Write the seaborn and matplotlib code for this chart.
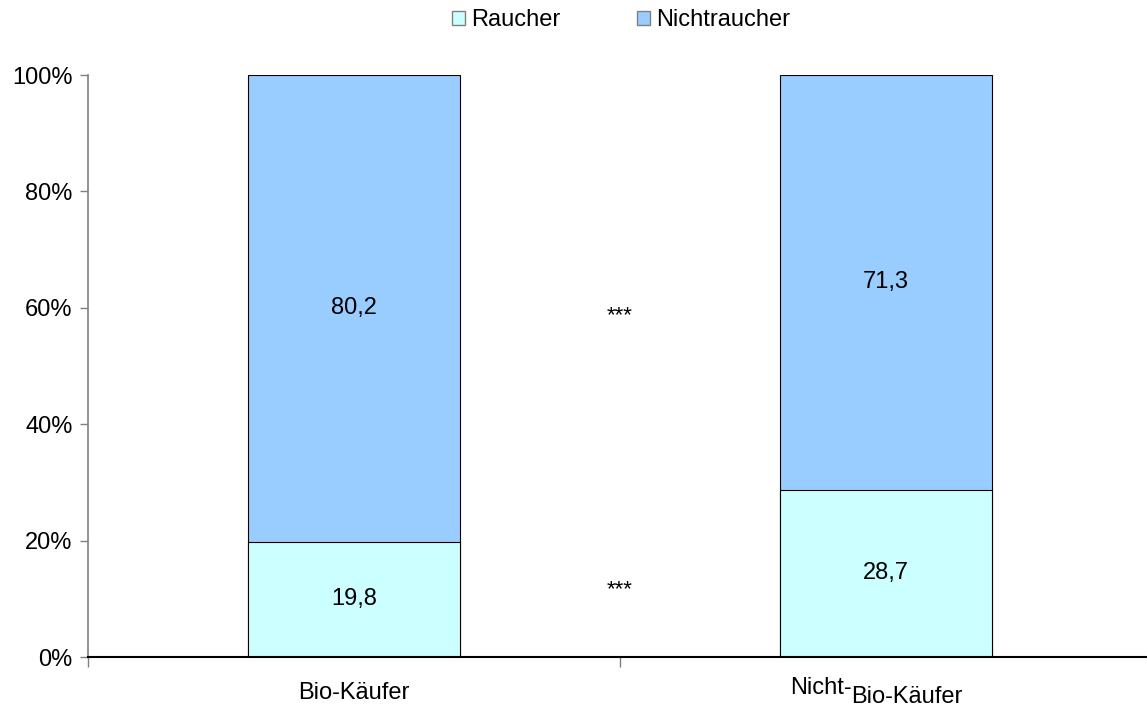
import matplotlib
matplotlib.use("Agg")
import matplotlib.pyplot as plt
import matplotlib.transforms as mtransforms
from matplotlib.patches import Patch
import seaborn as sns
import pandas as pd

# Data: share of smokers / non-smokers by buyer group (percent)
groups = ["Bio-Käufer", "Nicht-Bio-Käufer"]
raucher = [19.8, 28.7]
nichtraucher = [80.2, 71.3]
series_names = ["Raucher", "Nichtraucher"]
y_ticks = [0, 20, 40, 60, 80, 100]
signif_marks = ["***", "***"]
signif_levels = [58.6, 11.5]

col_raucher = "#CCFFFF"
col_nicht = "#99CCFF"

sns.set_style("white")
plt.rcParams["font.family"] = ["Liberation Sans", "DejaVu Sans"]
plt.rcParams["text.color"] = "black"
plt.rcParams["ytick.labelcolor"] = "black"
plt.rcParams["xtick.labelcolor"] = "black"

FS = 17

fig = plt.figure(figsize=(11.47, 7.10), dpi=100)
# plot area runs slightly past the right edge of the canvas
ax = fig.add_axes([88 / 1147, 1 - 657 / 710, (1152 - 88) / 1147, (657 - 75) / 710])

df = pd.DataFrame({
    "group": groups,
    "raucher": raucher,
    "total": [r + n for r, n in zip(raucher, nichtraucher)],
})

# stacked bars: full height first, smokers drawn over the lower part
sns.barplot(data=df, x="group", y="total", color=col_nicht, saturation=1,
            width=0.4, edgecolor="black", linewidth=0.8, ax=ax)
sns.barplot(data=df, x="group", y="raucher", color=col_raucher, saturation=1,
            width=0.4, edgecolor="black", linewidth=0.8, ax=ax)

# value labels centred in each segment
for i, (r, n) in enumerate(zip(raucher, nichtraucher)):
    ax.text(i, r / 2, f"{r:.1f}".replace(".", ","), ha="center", va="center", fontsize=FS)
    ax.text(i, r + n / 2, f"{n:.1f}".replace(".", ","), ha="center", va="center", fontsize=FS)

# significance stars between the bars
for m, lvl in zip(signif_marks, signif_levels):
    ax.text(0.5, lvl, m, ha="center", va="center", fontsize=16)

ax.set_xlim(-0.5, 1.5)
ax.set_ylim(0, 100)
ax.set_yticks(y_ticks)
ax.set_yticklabels([f"{t}%" for t in y_ticks], fontsize=FS)
ax.set_xlabel("")
ax.set_ylabel("")

# category boundaries as tick marks, labels drawn separately
ax.set_xticks([-0.5, 0.5, 1.5])
ax.set_xticklabels([])
ax.tick_params(axis="x", direction="out", length=7, width=1, color="#808080", bottom=True)
ax.tick_params(axis="y", direction="out", length=6, width=1, color="#808080", left=True, pad=5)

for side in ["top", "right"]:
    ax.spines[side].set_visible(False)
ax.spines["left"].set_color("#808080")
ax.spines["left"].set_linewidth(1.2)
ax.spines["bottom"].set_color("black")
ax.spines["bottom"].set_linewidth(1.5)

trans = mtransforms.blended_transform_factory(ax.transData, fig.transFigure)
ax.text(0, 1 - 693 / 710, groups[0], transform=trans, ha="center", va="center", fontsize=FS)
first, second = groups[1].split("-", 1)
ax.text(0.935, 1 - 688 / 710, first + "-", transform=trans, ha="right", va="center", fontsize=FS)
ax.text(0.935, 1 - 697 / 710, second, transform=trans, ha="left", va="center", fontsize=FS)

handles = [Patch(facecolor=col_raucher, edgecolor="#808080", linewidth=1),
           Patch(facecolor=col_nicht, edgecolor="#808080", linewidth=1)]
fig.legend(handles, series_names, loc="center", bbox_to_anchor=(621 / 1147, 1 - 20 / 710),
           ncol=2, frameon=False, fontsize=FS, handlelength=0.55, handleheight=0.55,
           handletextpad=0.25, columnspacing=3.25)

fig.savefig("out.png", dpi=100)
